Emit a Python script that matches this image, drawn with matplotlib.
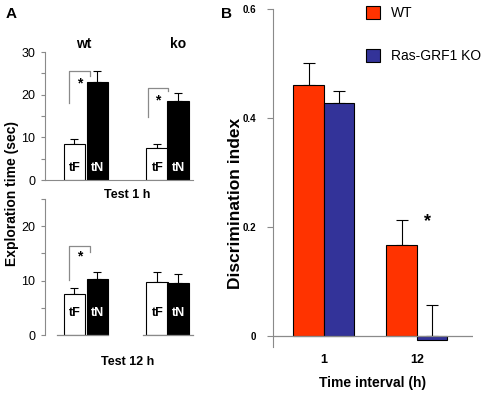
import matplotlib.pyplot as plt

plt.rcParams['font.family'] = ['Liberation Sans', 'DejaVu Sans']

# === DATA ===
# panel A: exploration time (sec), tF / tN for wt and ko
test1_mean = [8.4, 23.0, 7.5, 18.5]
test1_err = [1.3, 2.6, 1.0, 1.9]
test12_mean = [7.6, 10.3, 9.8, 9.5]
test12_err = [1.0, 1.3, 1.7, 1.8]
bar_labels = ["tF", "tN", "tF", "tN"]
group_labels = ["wt", "ko"]

# panel B: discrimination index
intervals = ["1", "12"]
wt_index = [0.46, 0.167]
ko_index = [0.428, -0.007]
wt_err = [0.04, 0.046]
ko_err = [0.022, 0.057]

RED = "#FF3300"
BLUE = "#333399"
GREY = "#8a8a8a"

fig = plt.figure(figsize=(4.9, 3.94), dpi=100)

xpos = [0, 1, 3.6, 4.5]
fill = ["white", "black", "white", "black"]
txtc = ["black", "white", "black", "white"]


def panel_a(ax, means, errs, ymax, ticks, minor, brackets, label_y):
    ax.bar(xpos, means, width=0.95, color=fill, edgecolor="black", linewidth=0.8, zorder=2)
    ax.errorbar(xpos, means, yerr=[[0] * 4, errs], fmt="none", ecolor="black",
                elinewidth=0.8, capsize=3, capthick=0.8, zorder=1)
    for x, t, c in zip(xpos, bar_labels, txtc):
        ax.text(x, label_y, t, ha="center", va="center", color=c,
                fontsize=9, fontweight="bold")
    # significance brackets
    for x0, x1, top, left_bot, right_bot, star_y in brackets:
        ax.plot([x0, x0, x1, x1], [left_bot, top, top, right_bot], color=GREY, lw=0.9)
        ax.text((x0 + x1) / 2, star_y, "*", ha="center", va="center",
                fontsize=10, fontweight="bold")
    ax.set_xlim(-1.28, 5.15)
    ax.set_ylim(0, ymax)
    ax.set_yticks(ticks)
    ax.set_yticks(minor, minor=True)
    ax.tick_params(axis="y", labelsize=9, length=3, color=GREY, width=0.8, pad=4)
    ax.tick_params(axis="y", which="minor", length=3, color=GREY, width=0.8)
    ax.set_xticks([])
    for s in ["top", "right"]:
        ax.spines[s].set_visible(False)
    ax.spines["left"].set_color(GREY)
    ax.spines["bottom"].set_color(GREY)
    ax.patch.set_alpha(0)


ax1 = fig.add_axes([0.0918, 0.5431, 0.302, 0.3249])
panel_a(ax1, test1_mean, test1_err, 30, [0, 10, 20, 30], [5, 15, 25],
        [(-0.24, 0.67, 25.5, 18.0, 24.3, 22.6), (3.2, 4.07, 21.5, 14.8, 20.8, 18.6)], 2.8)
for x, g in zip([0.4, 4.5], group_labels):
    ax1.text(x, 31.8, g, ha="center", va="center", fontsize=10, fontweight="bold")
ax1.text(2.3, -2.2, "Test 1 h", ha="center", va="top", fontsize=9, fontweight="bold")

ax2 = fig.add_axes([0.0918, 0.1497, 0.302, 0.3452])
panel_a(ax2, test12_mean, test12_err, 25, [0, 10, 20], [5, 15, 25],
        [(-0.24, 0.67, 16.3, 10.2, 15.2, 14.4)], 4.0)
ax2.spines["bottom"].set_visible(False)
ax2.plot([-0.76, 1.46], [0, 0], color=GREY, lw=0.9, clip_on=False)
ax2.plot([2.98, 5.15], [0, 0], color=GREY, lw=0.9, clip_on=False)
ax2.text(2.3, -3.8, "Test 12 h", ha="center", va="top", fontsize=9, fontweight="bold")

fig.text(0.024, 1 - 194 / 394, "Exploration time (sec)", rotation=90, ha="center",
         va="center", fontsize=10, fontweight="bold")
fig.text(0.012, 0.965, "A", fontsize=11, fontweight="bold", va="center")

# === PANEL B ===
ax3 = fig.add_axes([0.557, 0.1193, 0.408, 0.858])
centers = [0, 3.05]
wx = [c - 0.5 for c in centers]
kx = [c + 0.5 for c in centers]
ax3.bar(wx, wt_index, width=1, color=RED, edgecolor="black", linewidth=0.8, zorder=2,
        label="WT")
ax3.bar(kx, ko_index, width=1, color=BLUE, edgecolor="black", linewidth=0.8, zorder=2,
        label="Ras-GRF1 KO")
ax3.errorbar(wx, wt_index, yerr=[[0, 0], wt_err], fmt="none", ecolor="black",
             elinewidth=0.8, capsize=4, capthick=0.8, zorder=1)
ko_base = [max(v, 0) for v in ko_index]
ax3.errorbar(kx, ko_base, yerr=[[0, 0], ko_err], fmt="none", ecolor="black",
             elinewidth=0.8, capsize=4, capthick=0.8, zorder=1)
ax3.axhline(0, color=GREY, lw=0.9, zorder=3)
ax3.text(kx[1] - 0.15, 0.21, "*", ha="center", va="center", fontsize=13,
         fontweight="bold")
ax3.set_xlim(-1.67, 4.89)
ax3.set_ylim(-0.02, 0.6)
ax3.set_yticks([0, 0.2, 0.4, 0.6])
ax3.set_yticklabels(["0", "0.2", "0.4", "0.6"], fontsize=7, fontweight="bold")
ax3.tick_params(axis="y", length=4, color=GREY, width=0.8, pad=8)
ax3.set_xticks(centers)
ax3.set_xticklabels(intervals, fontsize=9, fontweight="bold")
ax3.tick_params(axis="x", length=0, pad=5)
for s in ["top", "right", "bottom"]:
    ax3.spines[s].set_visible(False)
ax3.spines["left"].set_color(GREY)
ax3.set_xlabel("Time interval (h)", fontsize=10, fontweight="bold", labelpad=7)
fig.text(235 / 490, 1 - 203 / 394, "Discrimination index", rotation=90, ha="center",
         va="center", fontsize=12.5, fontweight="bold")
ax3.legend(loc="upper left", bbox_to_anchor=(0.405, 1.045), frameon=False,
           fontsize=10, handlelength=1.0, handleheight=1.0, labelspacing=2.1,
           handletextpad=0.8)
fig.text(0.452, 0.965, "B", fontsize=11, fontweight="bold", va="center")

fig.savefig("out.png", dpi=100)
